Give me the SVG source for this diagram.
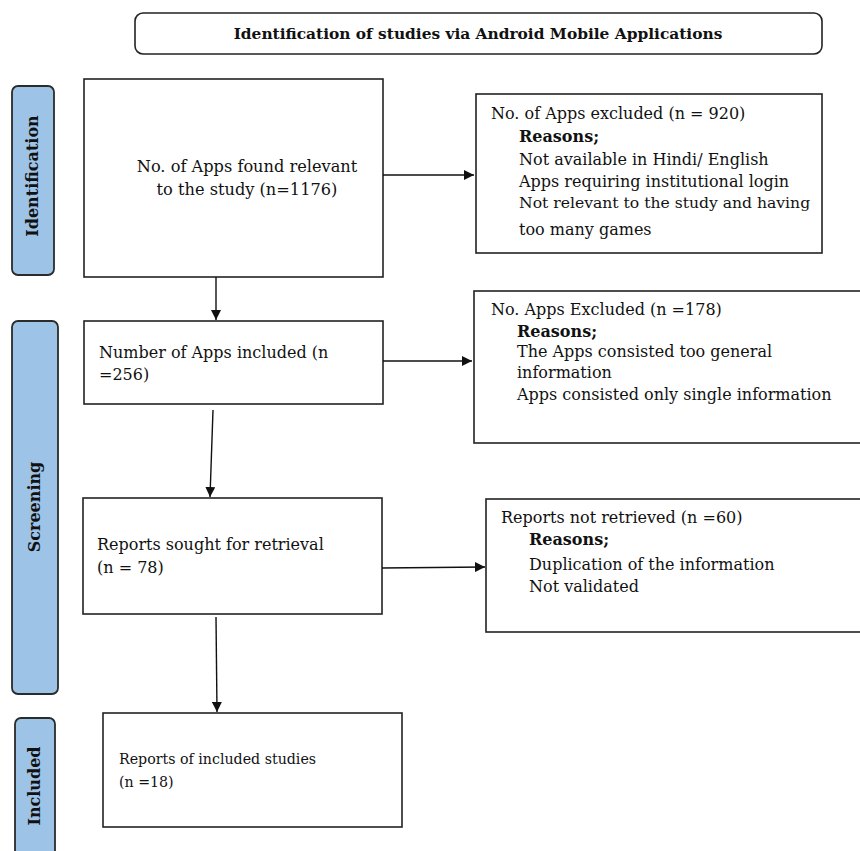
<svg xmlns="http://www.w3.org/2000/svg" width="860" height="851" viewBox="0 0 860 851">
<defs>
<marker id="ah" viewBox="0 0 10 10" refX="10" refY="5" markerWidth="10" markerHeight="10" markerUnits="userSpaceOnUse" orient="auto">
<path d="M0,0 L10,5 L0,10 z" fill="#111"/>
</marker>
</defs>
<style>
.box{fill:#fff;stroke:#222;stroke-width:1.6}
.side{fill:#9dc3e6;stroke:#2b2b2b;stroke-width:1.8}
.t{font-family:"DejaVu Serif","Liberation Serif",serif;font-size:16px;fill:#111}
.b{font-weight:bold}
.sl{font-family:"DejaVu Serif","Liberation Serif",serif;font-size:16px;font-weight:bold;fill:#111;text-anchor:middle}
.c{stroke:#111;stroke-width:1.4;fill:none;marker-end:url(#ah)}
</style>
<rect width="860" height="851" fill="#fff"/>
<g id="title">
<rect x="135" y="13" width="687" height="41" rx="8" class="box"/>
<text x="478" y="39" class="t b" text-anchor="middle" style="font-size:15.4px">Identification of studies via Android Mobile Applications</text>
</g>
<g id="lbl-identification">
<rect x="12" y="86" width="42" height="189" rx="6" class="side"/>
<text transform="translate(38,176) rotate(-90)" class="sl">Identification</text>
</g>
<g id="lbl-screening">
<rect x="12" y="321" width="46" height="373" rx="6" class="side"/>
<text transform="translate(40,507) rotate(-90)" class="sl">Screening</text>
</g>
<g id="lbl-included">
<rect x="15" y="718" width="40" height="145" rx="6" class="side"/>
<text transform="translate(40,786) rotate(-90)" class="sl">Included</text>
</g>
<g id="n-found">
<rect x="84" y="79" width="299" height="198" class="box"/>
<text x="247" y="172" class="t" text-anchor="middle" style="font-size:16.2px">No. of Apps found relevant</text>
<text x="247" y="195" class="t" text-anchor="middle" style="font-size:16.2px">to the study (n=1176)</text>
</g>
<g id="n-excl1">
<rect x="476" y="94" width="346" height="159" class="box"/>
<text x="491" y="119" class="t">No. of Apps excluded (n = 920)</text>
<text x="519" y="142" class="t b">Reasons;</text>
<text x="519" y="165" class="t">Not available in Hindi/ English</text>
<text x="519" y="187" class="t">Apps requiring institutional login</text>
<text x="519" y="208" class="t" style="font-size:15.6px">Not relevant to the study and having</text>
<text x="519" y="235" class="t">too many games</text>
</g>
<g id="n-included">
<rect x="84" y="321" width="299" height="83" class="box"/>
<text x="99" y="358" class="t">Number of Apps included (n</text>
<text x="99" y="380" class="t">=256)</text>
</g>
<g id="n-excl2">
<rect x="474" y="291" width="400" height="152" class="box"/>
<text x="491" y="315" class="t">No. Apps Excluded (n =178)</text>
<text x="517" y="337" class="t b">Reasons;</text>
<text x="517" y="357" class="t">The Apps consisted too general</text>
<text x="517" y="378" class="t">information</text>
<text x="517" y="400" class="t">Apps consisted only single information</text>
</g>
<g id="n-sought">
<rect x="83" y="498" width="299" height="116" class="box"/>
<text x="97" y="550" class="t">Reports sought for retrieval</text>
<text x="97" y="573" class="t">(n = 78)</text>
</g>
<g id="n-notret">
<rect x="486" y="499" width="390" height="133" class="box"/>
<text x="501" y="523" class="t">Reports not retrieved (n =60)</text>
<text x="529" y="545" class="t b">Reasons;</text>
<text x="529" y="570" class="t">Duplication of the information</text>
<text x="529" y="592" class="t">Not validated</text>
</g>
<g id="n-reports">
<rect x="103" y="713" width="299" height="114" class="box"/>
<text x="119" y="764" class="t" style="font-size:14.2px">Reports of included studies</text>
<text x="119" y="787" class="t" style="font-size:14.2px">(n =18)</text>
</g>
<g id="connectors">
<line x1="383" y1="175" x2="474" y2="175" class="c"/>
<line x1="216" y1="277" x2="216" y2="320" class="c"/>
<line x1="383" y1="361" x2="472" y2="361" class="c"/>
<line x1="213" y1="410" x2="210" y2="497" class="c"/>
<line x1="382" y1="568" x2="485" y2="567" class="c"/>
<line x1="216" y1="617" x2="217" y2="712" class="c"/>
</g>
</svg>
